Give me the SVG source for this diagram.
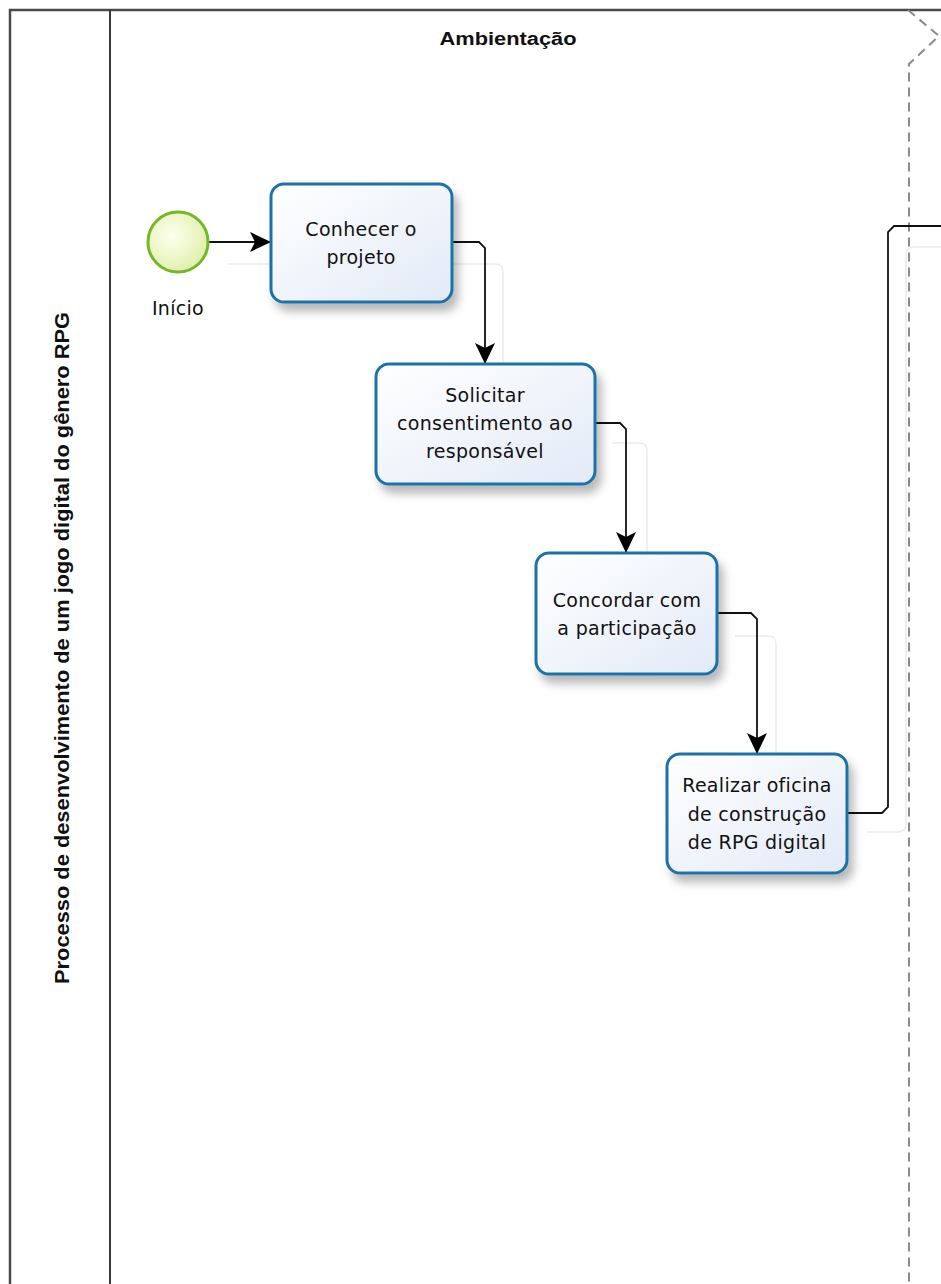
<svg xmlns="http://www.w3.org/2000/svg" width="941" height="1284" viewBox="0 0 941 1284">
  <style>
    .pool { fill: none; stroke: #4a4a4a; stroke-width: 2.5; }
    .lane { fill: none; stroke: #3a3a3a; stroke-width: 2; }
    .phase { fill: none; stroke: #8a8a8a; stroke-width: 2; stroke-dasharray: 9 6; }
    .task { fill: url(#taskFill); stroke: #1f72a8; stroke-width: 3; filter: url(#shadow); }
    .tt { font-family: "DejaVu Sans", "Noto Sans", sans-serif; font-size: 19px; fill: #111; text-anchor: middle; letter-spacing: 0.3px; }
    .conn { fill: none; stroke: #111; stroke-width: 1.8; }
    .ghost { fill: none; stroke: #ececec; stroke-width: 1.5; }
    .title { font-family: "Liberation Sans", Arial, sans-serif; font-weight: bold; fill: #111; }
  </style>
  <defs>
    <linearGradient id="taskFill" x1="0" y1="0" x2="1" y2="1">
      <stop offset="0" stop-color="#ffffff"/>
      <stop offset="1" stop-color="#e2eaf7"/>
    </linearGradient>
    <radialGradient id="startFill" cx="0.4" cy="0.4" r="0.7">
      <stop offset="0" stop-color="#fdfff0"/>
      <stop offset="1" stop-color="#dceea4"/>
    </radialGradient>
    <filter id="shadow" x="-20%" y="-20%" width="150%" height="160%">
      <feDropShadow dx="5" dy="8" stdDeviation="5" flood-color="#000" flood-opacity="0.28"/>
    </filter>
    <marker id="arrow" markerUnits="userSpaceOnUse" markerWidth="22" markerHeight="20" refX="21" refY="10" orient="auto">
      <path d="M0,0 L21,10 L0,20 L5,10 Z" fill="#000"/>
    </marker>
  </defs>

  <rect width="941" height="1284" fill="#ffffff"/>

  <g id="pool">
    <path class="pool" d="M10,1290 L10,10 L945,10"/>
    <line class="lane" x1="110" y1="10" x2="110" y2="1290"/>
    <text class="title" font-size="21" transform="rotate(-90)" x="-648" y="69" text-anchor="middle" textLength="672" lengthAdjust="spacingAndGlyphs">Processo de desenvolvimento de um jogo digital do gênero RPG</text>
  </g>

  <g id="phase-ambientacao">
    <text class="title" font-size="18" x="508" y="45" text-anchor="middle" textLength="137" lengthAdjust="spacingAndGlyphs">Ambientação</text>
    <path class="phase" d="M908,10 L939,36 L909,64 L909,1290"/>
  </g>

  <g id="ghosts">
    <path class="ghost" d="M228,264 L495,264 Q503,264 503,272 L503,364"/>
    <path class="ghost" d="M612,443 L639,443 Q647,443 647,451 L647,553"/>
    <path class="ghost" d="M735,636 L768,636 Q776,636 776,644 L776,754"/>
    <path class="ghost" d="M867,832 L898,832 Q906,832 906,824 L906,255 Q906,247 914,247 L941,247"/>
  </g>

  <g id="connectors">
    <path class="conn" d="M209,242 L271,242" marker-end="url(#arrow)"/>
    <path class="conn" d="M453,242 L479,242 L485,248 L485,364" marker-end="url(#arrow)"/>
    <path class="conn" d="M595,423 L620,423 L626,429 L626,553" marker-end="url(#arrow)"/>
    <path class="conn" d="M717,613 L751,613 L757,619 L757,754" marker-end="url(#arrow)"/>
    <path class="conn" d="M847,813 L882,813 L888,807 L888,232 L894,226 L945,226"/>
  </g>

  <g id="inicio">
    <circle cx="178" cy="242" r="30" fill="url(#startFill)" stroke="#76b72a" stroke-width="3"/>
    <text class="tt" x="178" y="315">Início</text>
  </g>

  <g id="conhecer">
    <rect class="task" x="271" y="184" width="181" height="118" rx="13"/>
    <text class="tt" x="361" y="236">Conhecer o</text>
    <text class="tt" x="361" y="264">projeto</text>
  </g>

  <g id="solicitar">
    <rect class="task" x="376" y="364" width="219" height="120" rx="13"/>
    <text class="tt" x="485" y="402">Solicitar</text>
    <text class="tt" x="485" y="430">consentimento ao</text>
    <text class="tt" x="485" y="458">responsável</text>
  </g>

  <g id="concordar">
    <rect class="task" x="536" y="553" width="181" height="121" rx="13"/>
    <text class="tt" x="627" y="607">Concordar com</text>
    <text class="tt" x="627" y="635">a participação</text>
  </g>

  <g id="realizar">
    <rect class="task" x="667" y="754" width="180" height="119" rx="13"/>
    <text class="tt" x="757" y="792">Realizar oficina</text>
    <text class="tt" x="757" y="821">de construção</text>
    <text class="tt" x="757" y="849">de RPG digital</text>
  </g>
</svg>
